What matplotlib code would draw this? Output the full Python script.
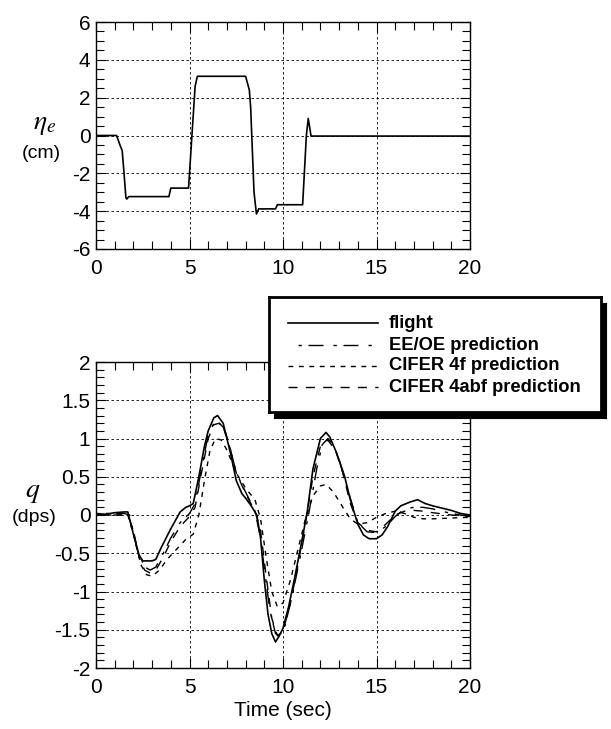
import matplotlib
matplotlib.use("Agg")
import matplotlib.pyplot as plt
from matplotlib.lines import Line2D
from matplotlib.ticker import MultipleLocator, FuncFormatter

plt.rcParams['font.family'] = ['Liberation Sans', 'DejaVu Sans']
plt.rcParams['axes.unicode_minus'] = False
plt.rcParams['mathtext.fontset'] = 'stix'

# ---- data: elevator input (top) ----
t_eta = [0, 1.1, 1.28, 1.4, 1.5, 1.6, 1.65, 1.75, 3.9, 4.0, 4.95, 5.0, 5.3, 5.42,
         8.0, 8.2, 8.27, 8.45, 8.58, 8.7, 9.6, 9.7, 11.05, 11.25, 11.35, 11.5, 20]
eta_e = [0, 0, -0.5, -0.8, -2.0, -3.3, -3.36, -3.23, -3.23, -2.78, -2.78, -2.0, 2.6, 3.13,
         3.13, 2.4, 1.5, -3.0, -4.15, -3.88, -3.88, -3.66, -3.66, 0.0, 0.9, -0.03, -0.03]

# ---- data: pitch rate (bottom) ----
t_flight = [0, 0.5, 1.0, 1.5, 1.7, 2.0, 2.3, 2.5, 3.0, 3.2, 3.5, 4.0, 4.5, 4.8, 5.0, 5.2,
            5.5, 5.8, 6.0, 6.3, 6.5, 6.8, 7.0, 7.2, 7.5, 7.8, 8.0, 8.3, 8.6, 8.8, 9.0,
            9.2, 9.4, 9.6, 9.8, 10.0, 10.3, 10.6, 11.0, 11.3, 11.6, 12.0, 12.3, 12.5,
            12.8, 13.0, 13.3, 13.6, 14.0, 14.3, 14.6, 15.0, 15.3, 15.6, 16.0, 16.3,
            16.8, 17.2, 17.6, 18.0, 18.5, 19.0, 19.5, 20.0]
q_flight = [0.02, 0.01, 0.03, 0.04, 0.04, -0.25, -0.52, -0.6, -0.6, -0.58, -0.42, -0.18,
            0.04, 0.1, 0.12, 0.15, 0.5, 0.9, 1.1, 1.27, 1.3, 1.2, 1.0, 0.8, 0.45, 0.28,
            0.22, 0.12, 0.0, -0.3, -0.85, -1.3, -1.55, -1.66, -1.58, -1.48, -1.2, -0.85,
            -0.35, 0.05, 0.6, 1.0, 1.08, 1.02, 0.85, 0.72, 0.5, 0.2, -0.12, -0.26, -0.31,
            -0.31, -0.26, -0.15, 0.05, 0.12, 0.17, 0.2, 0.15, 0.12, 0.09, 0.06, 0.02, 0.0]

t_eeoe = [0, 1.5, 1.8, 2.2, 2.6, 2.9, 3.2, 3.6, 4.0, 4.5, 5.0, 5.3, 5.6, 6.0, 6.3, 6.5,
          6.8, 7.2, 7.5, 8.0, 8.5, 8.8, 9.0, 9.3, 9.6, 9.8, 10.1, 10.5, 11.0, 11.4, 11.8,
          12.1, 12.4, 12.7, 13.0, 13.5, 14.0, 14.5, 15.0, 15.5, 16.0, 16.5, 17.0, 17.5,
          18.0, 18.5, 19.0, 19.5, 20.0]
q_eeoe = [0.02, 0.02, 0.0, -0.45, -0.68, -0.72, -0.68, -0.5, -0.3, -0.1, 0.02, 0.15,
          0.55, 1.05, 1.2, 1.22, 1.15, 0.85, 0.55, 0.3, 0.05, -0.3, -0.7, -1.25, -1.55,
          -1.58, -1.45, -1.05, -0.45, 0.05, 0.6, 0.92, 1.0, 0.92, 0.72, 0.3, -0.1, -0.22,
          -0.23, -0.15, -0.02, 0.08, 0.1, 0.1, 0.08, 0.05, 0.02, 0.0, -0.02]

t_4f = [0, 1.7, 2.0, 2.4, 2.7, 3.0, 3.4, 3.8, 4.3, 4.8, 5.2, 5.5, 5.8, 6.1, 6.4, 6.7,
        7.0, 7.5, 8.0, 8.5, 8.8, 9.1, 9.4, 9.7, 10.0, 10.4, 10.8, 11.2, 11.6, 12.0,
        12.3, 12.7, 13.2, 13.6, 14.0, 14.5, 15.0, 15.5, 16.0, 16.5, 17.0, 17.5, 18.0,
        19.0, 20.0]
q_4f = [0.0, 0.0, -0.25, -0.65, -0.78, -0.8, -0.72, -0.58, -0.45, -0.32, -0.25, 0.0,
        0.45, 0.85, 1.0, 0.98, 0.85, 0.55, 0.35, 0.2, -0.05, -0.55, -1.0, -1.2, -1.15,
        -0.85, -0.45, -0.05, 0.25, 0.38, 0.4, 0.3, 0.1, -0.05, -0.12, -0.1, -0.03,
        0.02, 0.05, 0.02, -0.03, -0.05, -0.05, -0.04, -0.03]

t_4abf = [0, 1.7, 2.0, 2.3, 2.6, 2.9, 3.2, 3.6, 4.0, 4.5, 5.0, 5.3, 5.6, 6.0, 6.3, 6.6,
          6.9, 7.2, 7.5, 8.0, 8.5, 8.8, 9.1, 9.4, 9.7, 10.0, 10.4, 10.8, 11.2, 11.6,
          12.0, 12.4, 12.8, 13.2, 13.6, 14.0, 14.5, 15.0, 15.5, 16.0, 16.5, 17.0, 17.5,
          18.0, 19.0, 20.0]
q_4abf = [0.0, 0.0, -0.2, -0.55, -0.72, -0.76, -0.72, -0.55, -0.35, -0.15, -0.02, 0.1,
          0.5, 1.0, 1.18, 1.2, 1.1, 0.85, 0.55, 0.28, 0.05, -0.2, -0.8, -1.35, -1.58,
          -1.52, -1.15, -0.65, -0.1, 0.5, 0.9, 0.98, 0.85, 0.55, 0.15, -0.1, -0.2, -0.22,
          -0.12, 0.0, 0.05, 0.06, 0.05, 0.03, 0.0, -0.02]

legend_labels = ['flight', 'EE/OE prediction', 'CIFER 4f prediction', 'CIFER 4abf prediction']

# line styles
styles = [dict(color='k', lw=1.2, linestyle='-'),
          dict(color='k', lw=1.0, linestyle=(18, (2.4, 4.8, 10.8, 7.2))),
          dict(color='k', lw=1.0, linestyle=(0, (3.5, 4))),
          dict(color='k', lw=1.0, linestyle=(0, (6.5, 6)))]

W, H = 611, 729
fig = plt.figure(figsize=(W / 100, H / 100), dpi=100)


def px_axes(x0, y0, x1, y1):
    # axes from pixel box (left, top, right, bottom)
    return fig.add_axes([x0 / W, 1 - y1 / H, (x1 - x0) / W, (y1 - y0) / H])


def style_axes(ax, ymin, ymax, ymaj, ymin_step):
    ax.set_xlim(0, 20)
    ax.set_ylim(ymin, ymax)
    ax.xaxis.set_major_locator(MultipleLocator(5))
    ax.xaxis.set_minor_locator(MultipleLocator(1))
    ax.yaxis.set_major_locator(MultipleLocator(ymaj))
    ax.yaxis.set_minor_locator(MultipleLocator(ymin_step))
    ax.yaxis.set_major_formatter(FuncFormatter(lambda v, p: ('%g' % v)))
    ax.tick_params(which='both', direction='in', top=True, right=True,
                   labelsize=15, pad=4, width=0.8)
    ax.tick_params(axis='x', which='both', pad=7)
    ax.tick_params(which='major', length=7)
    ax.tick_params(which='minor', length=6)
    ax.grid(True, which='major', color='k', linestyle=(0, (3, 3)), linewidth=0.6)
    for s in ax.spines.values():
        s.set_linewidth(1.0)


# top: elevator
ax1 = px_axes(96, 22, 470, 249)
ax1.plot(t_eta, eta_e, color='k', lw=1.2)
style_axes(ax1, -6, 6, 2, 0.5)
fig.text(45 / W, 1 - 124 / H, r'$\eta_e$', fontsize=20, ha='center', va='center')
fig.text(41 / W, 1 - 153 / H, '(cm)', fontsize=14, ha='center', va='center')

# bottom: pitch rate
ax2 = px_axes(96, 362, 470, 668)
series = [(t_flight, q_flight), (t_eeoe, q_eeoe), (t_4f, q_4f), (t_4abf, q_4abf)]
for (t, q), st in zip(series, styles):
    ax2.plot(t, q, **st)
style_axes(ax2, -2, 2, 0.5, 0.1)
ax2.set_xlabel('Time (sec)', fontsize=15, labelpad=3)
fig.text(33 / W, 1 - 492 / H, r'$q$', fontsize=20, ha='center', va='center')
fig.text(34 / W, 1 - 517 / H, '(dps)', fontsize=14, ha='center', va='center')

# legend box with solid black shadow
shadow = px_axes(274, 303, 606, 418)
shadow.set_facecolor('k')
shadow.set_xticks([])
shadow.set_yticks([])
leg = px_axes(269, 297, 601, 412)
leg.set_xlim(0, 1)
leg.set_ylim(0, 1)
leg.set_xticks([])
leg.set_yticks([])
for s in leg.spines.values():
    s.set_linewidth(2.0)
rows_px = [323, 345, 366, 387]
for lab, st, yp in zip(legend_labels, styles, rows_px):
    yy = 1 - (yp - 297) / 115
    leg.add_line(Line2D([0.057, 0.328], [yy, yy], **st))
    leg.text(0.36, yy, lab, fontsize=13.2, fontweight='bold', va='center', ha='left')

fig.savefig('out.png', dpi=100)
